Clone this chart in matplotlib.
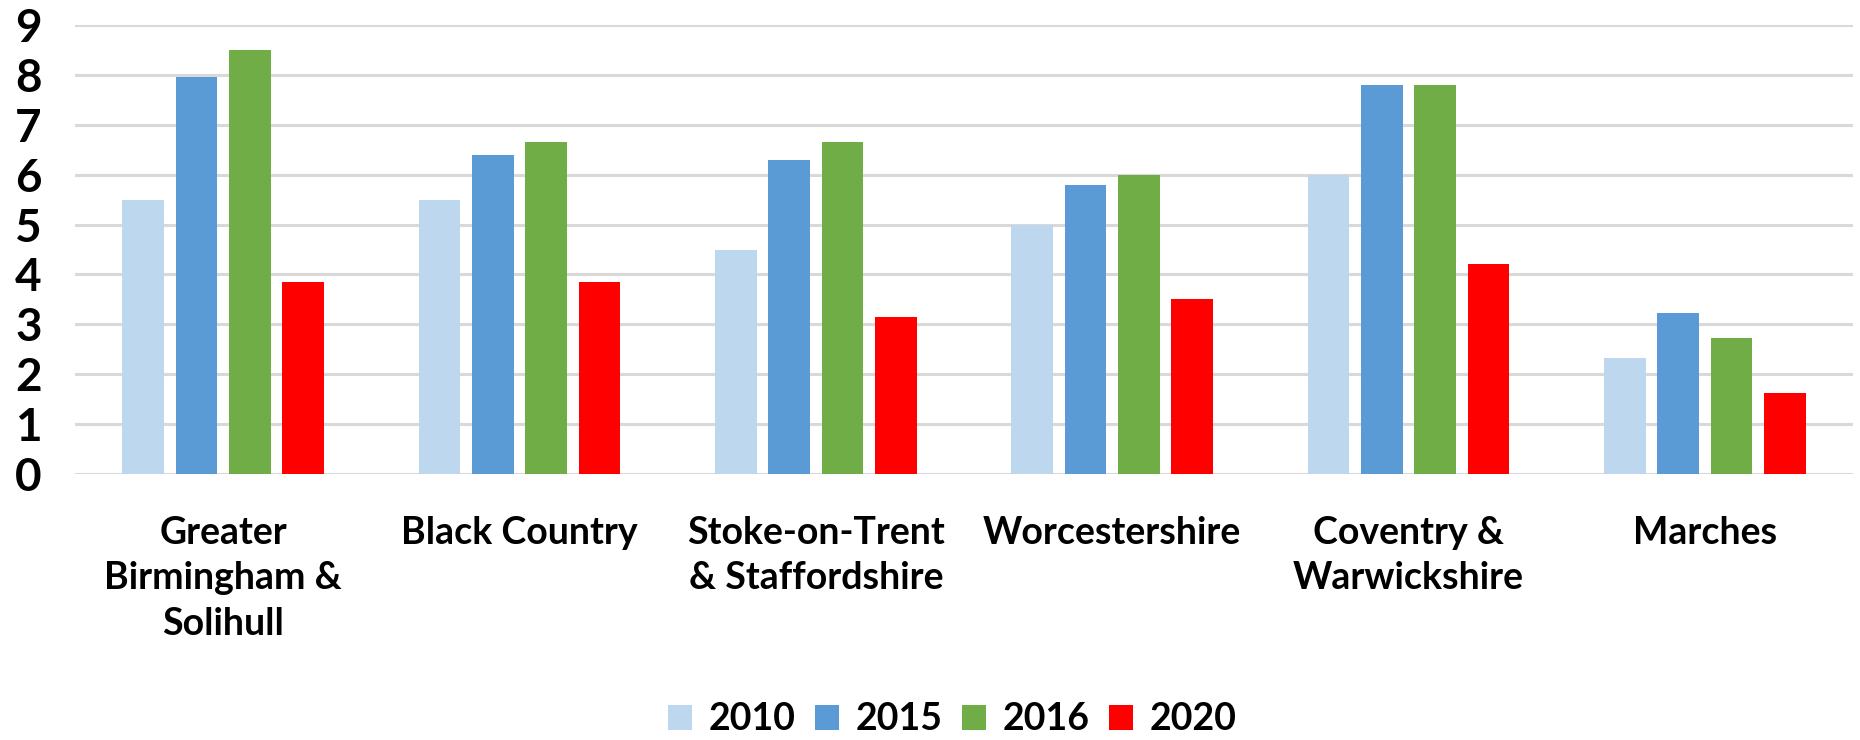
import matplotlib
matplotlib.use("Agg")
import matplotlib.pyplot as plt
import numpy as np

# data
regions = ["Greater\nBirmingham &\nSolihull", "Black Country", "Stoke-on-Trent\n& Staffordshire",
           "Worcestershire", "Coventry &\nWarwickshire", "Marches"]
years = ["2010", "2015", "2016", "2020"]
v2010 = [5.5, 5.5, 4.5, 5.0, 6.0, 2.33]
v2015 = [7.95, 6.4, 6.3, 5.8, 7.8, 3.23]
v2016 = [8.5, 6.65, 6.65, 6.0, 7.8, 2.73]
v2020 = [3.85, 3.85, 3.15, 3.5, 4.2, 1.63]
colours = ["#BDD7EE", "#5B9BD5", "#70AD47", "#FF0000"]

plt.rcParams['font.family'] = ['Lato', 'DejaVu Sans']
plt.rcParams['font.weight'] = 'bold'

fig = plt.figure(figsize=(18.6, 7.4), dpi=100)
ax = fig.add_axes([75 / 1860, 1 - 474 / 740, (1853 - 75) / 1860, (474 - 25) / 740])

x = np.arange(len(regions))
bar_w = 0.14
step = 0.18
series = [v2010, v2015, v2016, v2020]
for i, (vals, yr, col) in enumerate(zip(series, years, colours)):
    ax.bar(x + (i - 1.5) * step, vals, width=bar_w, color=col, label=yr, zorder=3)

ax.set_xlim(-0.5, len(regions) - 0.5)
ax.set_ylim(0, 9)
ax.set_yticks(range(0, 10))
ax.set_yticklabels([str(v) for v in range(0, 10)], fontsize=33, fontweight='bold')
ax.grid(axis='y', color='#D9D9D9', linewidth=2.2, zorder=0)
for s in ax.spines.values():
    s.set_visible(False)
ax.tick_params(axis='both', length=0)
ax.tick_params(axis='y', pad=24)
ax.set_xticks(x)
ax.set_xticklabels(regions, fontsize=27, fontweight='bold', linespacing=1.42)
ax.tick_params(axis='x', pad=30)

fig.legend(loc='center', bbox_to_anchor=(0.512, 0.028), ncol=4, frameon=False,
           handlelength=0.65, handleheight=0.65, columnspacing=0.5,
           handletextpad=0.45, prop={'size': 27, 'weight': 'bold'})

fig.savefig("out.png", dpi=100)
